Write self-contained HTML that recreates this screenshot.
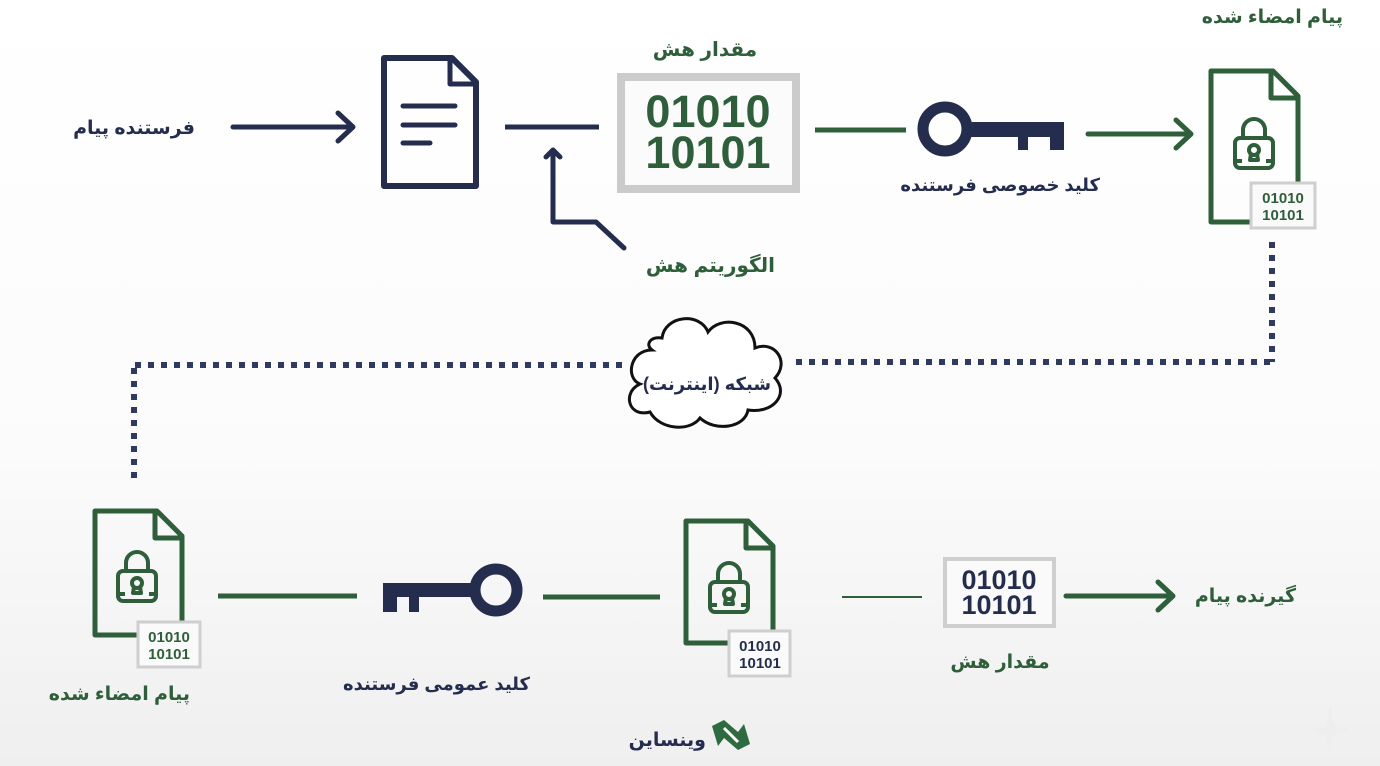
<!DOCTYPE html>
<html><head><meta charset="utf-8"><style>
html,body{margin:0;padding:0;}
body{width:1380px;height:766px;overflow:hidden;background:linear-gradient(#ffffff 0%,#fbfbfb 60%,#efefef 100%);}
svg{display:block}
.fa{font-family:"Liberation Sans","Noto Sans CJK SC","DejaVu Sans",sans-serif;font-weight:bold;}
.mono{font-family:"Liberation Sans","DejaVu Sans",sans-serif;font-weight:bold;}
</style></head><body>
<svg width="1380" height="766" viewBox="0 0 1380 766" xmlns="http://www.w3.org/2000/svg">
<defs>
<g id="lock" fill="none" stroke="#2e5e3a" stroke-width="4" stroke-linejoin="round">
  <path d="M-11,-8 V-16 A11,11 0 0 1 11,-16 V-8"/>
  <rect x="-19" y="-8" width="38" height="30" rx="5"/>
  <circle cx="0" cy="4" r="5"/>
  <path d="M-3,8 L-4,14 H4 L3,8"/>
  <path d="M-19,15 H-12 M12,15 H19"/>
</g>
</defs>
<!-- Top row -->
<text x="195" y="134" class="fa" font-size="19" fill="#252d4f" text-anchor="end">فرستنده پیام</text>
<g stroke="#252d4f" stroke-width="5" fill="none" stroke-linecap="round" stroke-linejoin="round">
  <line x1="233" y1="127" x2="352" y2="127"/>
  <polyline points="338,113 353,127 338,141"/>
  <path d="M384,58 H452 L476,82 V186 H384 Z" stroke-width="6"/>
  <path d="M450,58 V84 H476" stroke-width="5"/>
  <line x1="403" y1="106" x2="455" y2="106"/>
  <line x1="403" y1="125" x2="455" y2="125"/>
  <line x1="403" y1="143" x2="430" y2="143"/>
  <line x1="505" y1="127" x2="599" y2="127" stroke-linecap="butt"/>
  <polyline points="553,152 553,222 596,222 624,248"/>
  <polyline points="546,157 553,150 560,157"/>
</g>
<text x="775" y="272" class="fa" font-size="20" fill="#2e5e3a" text-anchor="end">الگوریتم هش</text>
<text x="705" y="56" class="fa" font-size="20" fill="#2e5e3a" text-anchor="middle">مقدار هش</text>
<rect x="621" y="77" width="175" height="112" fill="#fbfbfb" stroke="#cbcbcb" stroke-width="8"/>
<text x="708" y="127" class="mono" font-size="45" fill="#2e5e3a" text-anchor="middle">01010</text>
<text x="708" y="168" class="mono" font-size="45" fill="#2e5e3a" text-anchor="middle">10101</text>
<line x1="815" y1="130" x2="906" y2="130" stroke="#2e5e3a" stroke-width="5"/>
<g fill="#252d4f">
  <circle cx="945" cy="129" r="22" fill="none" stroke="#252d4f" stroke-width="11"/>
  <rect x="964" y="122" width="100" height="15"/>
  <rect x="1018" y="122" width="10" height="28"/>
  <rect x="1050" y="122" width="14" height="28"/>
</g>
<text x="1100" y="191" class="fa" font-size="18" fill="#252d4f" text-anchor="end">کلید خصوصی فرستنده</text>
<g stroke="#2e5e3a" stroke-width="5" fill="none" stroke-linecap="round" stroke-linejoin="round">
  <line x1="1088" y1="134" x2="1190" y2="134"/>
  <polyline points="1176,120 1191,134 1176,148"/>
  <path d="M1211,71 H1273 L1298,96 V222 H1211 Z"/>
  <path d="M1271,71 V98 H1298"/>
</g>
<use href="#lock" x="1254" y="146"/>
<rect x="1251" y="183" width="64" height="45" fill="#fafafa" stroke="#cfcfcf" stroke-width="3"/>
<text x="1283" y="203" class="mono" font-size="15" fill="#2e5e3a" text-anchor="middle">01010</text>
<text x="1283" y="220" class="mono" font-size="15" fill="#2e5e3a" text-anchor="middle">10101</text>
<text x="1343" y="23" class="fa" font-size="19" fill="#2e5e3a" text-anchor="end">پیام امضاء شده</text>
<g stroke="#2f3a60" stroke-width="6" fill="none" stroke-dasharray="6 7">
  <line x1="1272" y1="242" x2="1272" y2="362"/>
  <line x1="1270" y1="362" x2="796" y2="362"/>
  <line x1="622" y1="365" x2="134" y2="365"/>
  <line x1="134" y1="368" x2="134" y2="482"/>
</g>
<path d="M652,350 C630,350 625,378 640,384 C622,392 628,418 650,412 C660,430 690,432 700,418 C715,432 745,428 748,410 C772,414 790,395 775,378 C790,362 775,340 755,348 C755,320 720,315 708,332 C700,312 665,315 662,338 C650,336 645,345 652,350 Z" fill="#fff" stroke="#111" stroke-width="3"/>
<text x="707" y="390" class="fa" font-size="18" fill="#252d4f" text-anchor="middle">شبکه (اینترنت)</text>
<!-- Bottom row -->
<g stroke="#2e5e3a" stroke-width="5" fill="none" stroke-linejoin="round">
  <path d="M95,511 H157 L182,536 V635 H95 Z"/>
  <path d="M155,511 V538 H182"/>
  <line x1="218" y1="596" x2="357" y2="596"/>
  <path d="M686,521 H748 L773,546 V643 H686 Z"/>
  <path d="M746,521 V548 H773"/>
  <line x1="543" y1="597" x2="660" y2="597"/>
  <line x1="842" y1="597" x2="922" y2="597" stroke-width="2"/>
  <line x1="1066" y1="596" x2="1172" y2="596" stroke-linecap="round"/>
  <polyline points="1158,582 1173,596 1158,610" stroke-linecap="round"/>
</g>
<use href="#lock" x="137" y="579"/>
<use href="#lock" x="729" y="590"/>
<rect x="138" y="622" width="62" height="45" fill="#fafafa" stroke="#cfcfcf" stroke-width="3"/>
<text x="169" y="642" class="mono" font-size="15" fill="#2e5e3a" text-anchor="middle">01010</text>
<text x="169" y="659" class="mono" font-size="15" fill="#2e5e3a" text-anchor="middle">10101</text>
<rect x="729" y="631" width="61" height="45" fill="#fafafa" stroke="#cfcfcf" stroke-width="3"/>
<text x="760" y="651" class="mono" font-size="15" fill="#252d4f" text-anchor="middle">01010</text>
<text x="760" y="668" class="mono" font-size="15" fill="#252d4f" text-anchor="middle">10101</text>
<text x="190" y="700" class="fa" font-size="19" fill="#2e5e3a" text-anchor="end">پیام امضاء شده</text>
<g fill="#252d4f">
  <circle cx="496" cy="590" r="21" fill="none" stroke="#252d4f" stroke-width="11"/>
  <rect x="383" y="583" width="96" height="14"/>
  <rect x="383" y="583" width="14" height="29"/>
  <rect x="409" y="583" width="10" height="29"/>
</g>
<text x="530" y="690" class="fa" font-size="18" fill="#252d4f" text-anchor="end">کلید عمومی فرستنده</text>
<rect x="945" y="559" width="109" height="67" fill="#fafafa" stroke="#cfcfcf" stroke-width="4"/>
<text x="999" y="589" class="mono" font-size="27" fill="#252d4f" text-anchor="middle">01010</text>
<text x="999" y="614" class="mono" font-size="27" fill="#252d4f" text-anchor="middle">10101</text>
<text x="1000" y="668" class="fa" font-size="19" fill="#2e5e3a" text-anchor="middle">مقدار هش</text>
<text x="1296" y="602" class="fa" font-size="19" fill="#2e5e3a" text-anchor="end">گیرنده پیام</text>
<g transform="translate(730,736)">
  <path d="M-18,-10 L-6,-16 L8,-4 L14,-12 L20,8 L8,14 L-6,2 L-12,10 Z" fill="#2e6b40"/>
  <path d="M-6,-8 L8,6" stroke="#fff" stroke-width="3"/>
</g>
<text x="706" y="746" class="fa" font-size="19" fill="#252d4f" text-anchor="end">وینساین</text>
<path d="M1330,705 L1334,725 L1352,730 L1334,735 L1330,752 L1326,735 L1310,730 L1326,725 Z" fill="#eeeeee"/>
</svg>
</body></html>
